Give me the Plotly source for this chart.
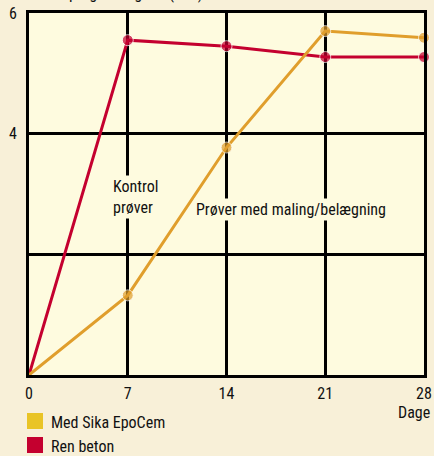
import plotly.graph_objects as go

days = [0, 7, 14, 21, 28]
ren_beton = [0, 5.55, 5.45, 5.27, 5.27]
med_sika = [0, 1.32, 3.77, 5.70, 5.59]
x_ticks = [0, 7, 14, 21, 28]
y_ticks = [0, 2, 4, 6]
y_ticktext = ["", "", "4", "6"]
legend_names = ["Med Sika EpoCem", "Ren beton"]

RED = "#C4002F"
ORANGE = "#E09E2C"
LEG_YELLOW = "#E9C425"
FONT = "Liberation Sans Narrow, Roboto Condensed, Arial Narrow, sans-serif"

W, H = 434, 456
L, R, T, B = 29, 10, 13, 81
PW, PH = W - L - R, H - T - B

fig = go.Figure()
fig.add_trace(go.Scatter(x=days, y=ren_beton, mode="lines+markers",
                         line=dict(color=RED, width=3),
                         marker=dict(color=RED, size=[0, 11, 11, 11, 11]),
                         cliponaxis=False, showlegend=False, hoverinfo="skip"))
fig.add_trace(go.Scatter(x=days, y=med_sika, mode="lines+markers",
                         line=dict(color=ORANGE, width=3),
                         marker=dict(color=ORANGE, size=[0, 11, 11, 11, 11]),
                         cliponaxis=False, showlegend=False, hoverinfo="skip"))

fig.update_layout(
    width=W, height=H,
    margin=dict(l=L, r=R, t=T, b=B, autoexpand=False),
    paper_bgcolor="#F8F0D8",
    plot_bgcolor="#FEFBDF",
    font=dict(family=FONT, size=16, color="#111111"),
    showlegend=False,
    xaxis=dict(range=[0, 28], tickvals=x_ticks, ticktext=[str(v) for v in x_ticks],
               showgrid=True, gridcolor="#000000", gridwidth=3,
               showline=True, linecolor="#000000", linewidth=3, mirror=True,
               zeroline=False, ticks="outside", ticklen=2, tickcolor="rgba(0,0,0,0)",
               tickfont=dict(size=16), automargin=False),
    yaxis=dict(range=[0, 6], tickvals=y_ticks, ticktext=y_ticktext,
               showgrid=True, gridcolor="#000000", gridwidth=3,
               showline=True, linecolor="#000000", linewidth=3, mirror=True,
               zeroline=False, ticks="outside", ticklen=6, tickcolor="rgba(0,0,0,0)",
               tickfont=dict(size=16), automargin=False),
)

# cut-off y-axis title at top
fig.add_annotation(text="Vandoptagelse i g/m² (000)", xref="paper", yref="paper",
                   x=0.0, y=1.0, xanchor="left", yanchor="bottom", yshift=8, xshift=-2,
                   showarrow=False, font=dict(size=16))
fig.add_annotation(text="Dage", xref="paper", yref="paper", x=1.0, y=0, xanchor="right",
                   yanchor="top", xshift=8, yshift=-26, showarrow=False, font=dict(size=16))
fig.add_annotation(text="Kontrol<br>prøver", x=7, y=2.95, xref="x", yref="y",
                   xanchor="left", align="left", xshift=-17, showarrow=False,
                   bgcolor="#FEFBDF", font=dict(size=16))
fig.add_annotation(text="Prøver med maling/belægning", x=18.6, y=2.75, xref="x", yref="y",
                   showarrow=False, bgcolor="#FEFBDF", font=dict(size=16))

# legend (drawn manually, in pixel-derived paper coordinates)
def px_x(px):
    return (px - L) / PW

def px_y(py):
    return (H - B - py) / PH

for i, (name, col) in enumerate(zip(legend_names, [LEG_YELLOW, RED])):
    top = 413 + i * 24
    fig.add_shape(type="rect", xref="paper", yref="paper",
                  x0=px_x(27), x1=px_x(43), y0=px_y(top + 16), y1=px_y(top),
                  fillcolor=col, line=dict(width=0))
    fig.add_annotation(text=name, xref="paper", yref="paper",
                       x=px_x(49), y=px_y(top + 9),
                       xanchor="left", yanchor="middle", showarrow=False, font=dict(size=16))

fig.write_html("out.html", config={"displayModeBar": False},
               post_script="document.body.style.margin='0';document.body.style.overflow='hidden';")
